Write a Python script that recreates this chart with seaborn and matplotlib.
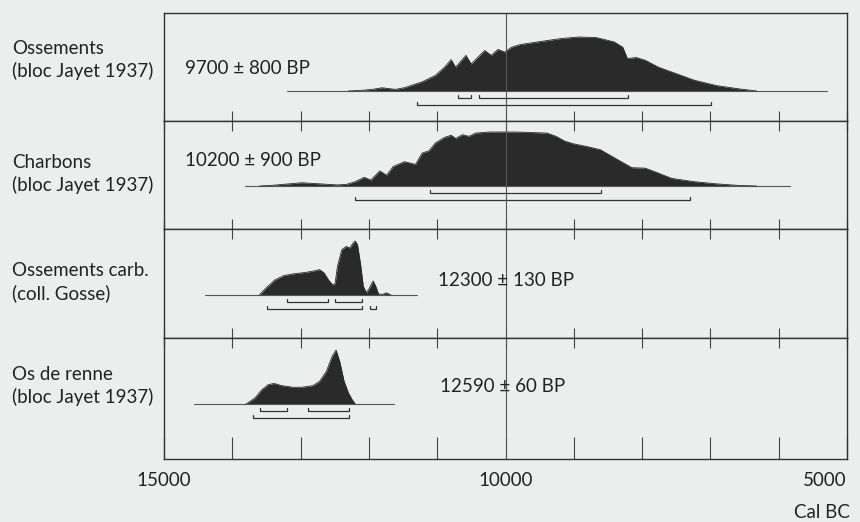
import matplotlib
matplotlib.use("Agg")
import matplotlib.pyplot as plt
import seaborn as sns

sns.set_theme(style="white")
plt.rcParams['font.family'] = ['Lato', 'DejaVu Sans']

# ---- data ----
names = ["Ossements\n(bloc Jayet 1937)",
         "Charbons\n(bloc Jayet 1937)",
         "Ossements carb.\n(coll. Gosse)",
         "Os de renne\n(bloc Jayet 1937)"]
dates = ["9700 ± 800 BP", "10200 ± 900 BP", "12300 ± 130 BP", "12590 ± 60 BP"]

# calendar years BC and relative probability (1 = highest)
p1_years = [12300, 12135, 11950, 11808, 11612, 11482, 11220, 11025, 10894, 10796,
            10731, 10580, 10502, 10306, 10208, 10110, 10012, 9914, 9784, 9523,
            9196, 8935, 8674, 8412, 8282, 8216, 8086, 7955, 7759, 7563,
            7237, 6910, 6584, 6323]
p1_dens = [0.0, 0.01, 0.03, 0.06, 0.03, 0.06, 0.17, 0.29, 0.44, 0.58,
           0.44, 0.66, 0.5, 0.75, 0.66, 0.77, 0.72, 0.81, 0.86, 0.91,
           0.97, 1.0, 0.99, 0.91, 0.81, 0.6, 0.62, 0.57, 0.44, 0.35,
           0.2, 0.1, 0.04, 0.0]
p1_span = (13200, 5300)
p1_r68 = [(10698, 10502), (10391, 8203)]
p1_r95 = [(11299, 6995)]

p2_years = [13600, 13441, 12983, 12461, 12330, 12200, 12069, 11971, 11841, 11743,
            11645, 11481, 11318, 11220, 11122, 11024, 10893, 10796, 10730, 10632,
            10535, 10437, 10241, 9849, 9392, 9261, 9131, 9000, 8804, 8608,
            8347, 8151, 7955, 7825, 7564, 7237, 6910, 6584, 6323]
p2_dens = [0.0, 0.01, 0.06, 0.02, 0.03, 0.08, 0.16, 0.11, 0.28, 0.2,
           0.36, 0.45, 0.4, 0.61, 0.65, 0.8, 0.9, 0.94, 0.88, 0.95,
           0.92, 0.98, 1.0, 1.0, 0.98, 0.92, 0.83, 0.78, 0.73, 0.67,
           0.48, 0.34, 0.33, 0.27, 0.14, 0.08, 0.04, 0.01, 0.0]
p2_span = (13813, 5833)
p2_r68 = [(11103, 8608)]
p2_r95 = [(12200, 7302)]

p3_years = [13604, 13506, 13375, 13245, 13114, 12918, 12788, 12722, 12657, 12592,
            12526, 12494, 12461, 12396, 12330, 12278, 12233, 12200, 12167, 12121,
            12082, 12036, 11991, 11939, 11899, 11860, 11808, 11743, 11677]
p3_dens = [0.0, 0.13, 0.28, 0.36, 0.39, 0.42, 0.45, 0.47, 0.41, 0.28,
           0.18, 0.22, 0.53, 0.84, 0.9, 0.87, 0.96, 1.0, 0.93, 0.56,
           0.16, 0.04, 0.13, 0.26, 0.16, 0.02, 0.01, 0.04, 0.0]
p3_span = (14400, 11299)
p3_r68 = [(13192, 12592), (12494, 12095)]
p3_r95 = [(13493, 12095), (11991, 11893)]

p4_years = [13800, 13669, 13571, 13473, 13388, 13277, 13114, 12983, 12820, 12722,
            12624, 12539, 12481, 12428, 12363, 12298, 12245, 12200]
p4_dens = [0.0, 0.11, 0.26, 0.36, 0.38, 0.34, 0.31, 0.31, 0.34, 0.42,
           0.6, 0.88, 1.0, 0.79, 0.42, 0.2, 0.08, 0.0]
p4_span = (14564, 11632)
p4_r68 = [(13597, 13192), (12886, 12285)]
p4_r95 = [(13702, 12285)]

samples = [
    (p1_years, p1_dens, p1_span, p1_r68, p1_r95),
    (p2_years, p2_dens, p2_span, p2_r68, p2_r95),
    (p3_years, p3_dens, p3_span, p3_r68, p3_r95),
    (p4_years, p4_dens, p4_span, p4_r68, p4_r95),
]

# ---- layout (pixels) ----
W, H = 860, 522
BG = "#eceeee"
INK = "#2a2a2a"
FS = 13.5
panels = [(13, 121), (121, 229), (229, 338), (338, 459)]
x_left, x_right = 164, 847
base_off = [78, 65, 66, 66]
peak_px = 54
name_y = [60, 174, 282, 386]
date_pos = [(185, 68), (185, 161), (438, 280), (440, 386)]

fig = plt.figure(figsize=(W / 100, H / 100), dpi=100, facecolor=BG)


def bracket(ax, x0, x1, y):
    ax.plot([x0, x0, x1, x1], [y - 3, y, y, y - 3], color="#333333", lw=0.9,
            solid_joinstyle="miter")


for i, (yrs, dens, span, r68, r95) in enumerate(samples):
    top, bot = panels[i]
    ax = fig.add_axes([x_left / W, 1 - bot / H, (x_right - x_left) / W, (bot - top) / H])
    ax.set_facecolor(BG)
    ax.set_xlim(15000, 5000)
    ax.set_ylim(bot - top, 0)
    base = base_off[i]

    curve = [base - d * peak_px for d in dens]
    ax.plot(list(span), [base, base], color="#555555", lw=0.8)
    ax.fill_between(yrs, base, curve, color=INK, lw=0)
    sns.lineplot(x=yrs, y=curve, ax=ax, color=INK, lw=0.6, estimator=None, sort=False)

    for a, b in r68:
        bracket(ax, a, b, base + 7)
    for a, b in r95:
        bracket(ax, a, b, base + 14)

    ax.axvline(10000, color="#555555", lw=0.8)

    ax.set_yticks([])
    ax.set_xticks(list(range(5000, 15001, 1000)))
    ax.tick_params(axis="x", direction="in", length=7, width=0.8, color="#444444",
                   top=(i > 0), bottom=True, labelbottom=(i == 3),
                   labelsize=FS, labelcolor="#222222", pad=9)
    for sp in ax.spines.values():
        sp.set_color("#333333")
        sp.set_linewidth(1.0)

    if i == 3:
        ax.set_xticklabels([str(t) if t % 5000 == 0 else "" for t in range(5000, 15001, 1000)])
        for t in ax.xaxis.get_major_ticks():
            t.tick1line.set_markersize(16)
        labs = ax.get_xticklabels()
        labs[0].set_ha("right")

    fig.text(12 / W, 1 - name_y[i] / H, names[i], ha="left", va="center",
             fontsize=FS, color="#222222", linespacing=1.35)
    fig.text(date_pos[i][0] / W, 1 - date_pos[i][1] / H, dates[i], ha="left",
             va="center", fontsize=FS, color="#222222")

fig.text(850 / W, 1 - 512 / H, "Cal BC", ha="right", va="center", fontsize=FS, color="#222222")

fig.savefig("out.png", dpi=100, facecolor=BG)
